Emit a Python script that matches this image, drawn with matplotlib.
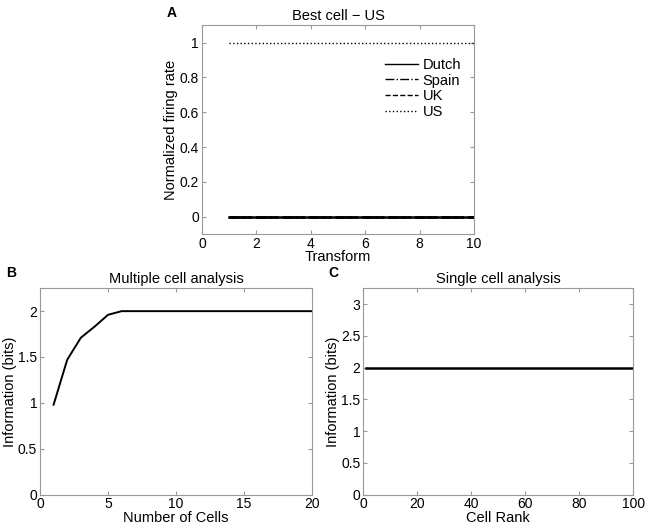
import matplotlib
matplotlib.use("Agg")
import matplotlib.pyplot as plt
import numpy as np

plt.rcParams["font.family"] = ["Liberation Sans", "DejaVu Sans"]
plt.rcParams["font.size"] = 10.5

# panel A: best cell responses per transform
transforms = np.arange(1, 11)
countries = ["Dutch", "Spain", "UK", "US"]
rates = {
    "Dutch": [0, 0, 0, 0, 0, 0, 0, 0, 0, 0],
    "Spain": [0, 0, 0, 0, 0, 0, 0, 0, 0, 0],
    "UK": [0, 0, 0, 0, 0, 0, 0, 0, 0, 0],
    "US": [1, 1, 1, 1, 1, 1, 1, 1, 1, 1],
}
styles = {"Dutch": "-", "Spain": "-.", "UK": "--", "US": ":"}
a_xticks = [0, 2, 4, 6, 8, 10]
a_yticks = [0, 0.2, 0.4, 0.6, 0.8, 1]
a_yticklabels = ["0", "0.2", "0.4", "0.6", "0.8", "1"]

# panel B: multiple cell analysis
n_cells = np.arange(1, 21)
multi_info = [0.98, 1.47, 1.71, 1.83, 1.96, 2.0, 2.0, 2.0, 2.0, 2.0,
              2.0, 2.0, 2.0, 2.0, 2.0, 2.0, 2.0, 2.0, 2.0, 2.0]
b_xticks = [0, 5, 10, 15, 20]
b_yticks = [0, 0.5, 1, 1.5, 2]
b_yticklabels = ["0", "0.5", "1", "1.5", "2"]

# panel C: single cell analysis
cell_rank = np.arange(1, 101)
single_info = [2.0] * 100
c_xticks = [0, 20, 40, 60, 80, 100]
c_yticks = [0, 0.5, 1, 1.5, 2, 2.5, 3]
c_yticklabels = ["0", "0.5", "1", "1.5", "2", "2.5", "3"]


def matlab_box(ax):
    for s in ax.spines.values():
        s.set_color("0.6")
        s.set_linewidth(0.8)
    ax.tick_params(direction="in", top=True, right=True, length=3,
                   color="0.6", labelsize=10, pad=2)


fig = plt.figure(figsize=(6.45, 5.25), dpi=100)
axA = fig.add_axes([0.313, 0.554, 0.422, 0.398])
axB = fig.add_axes([0.062, 0.058, 0.422, 0.393])
axC = fig.add_axes([0.563, 0.058, 0.419, 0.393])

for c in countries:
    axA.plot(transforms, rates[c], ls=styles[c], color="k",
             lw=1.8 if c != "US" else 1.0, label=c)
axA.set_xlim(0, 10)
axA.set_ylim(-0.1, 1.1)
axA.set_xticks(a_xticks)
axA.set_yticks(a_yticks)
axA.set_yticklabels(a_yticklabels)
axA.set_title("Best cell \u2212 US", fontsize=10.5, pad=4)
axA.set_xlabel("Transform", labelpad=-1)
axA.set_ylabel("Normalized firing rate", labelpad=1)
leg = axA.legend(loc="upper right", bbox_to_anchor=(0.99, 0.893), frameon=False,
                 fontsize=10.5, handlelength=2.2, handletextpad=0.35,
                 labelspacing=0.12, borderaxespad=0.3)
for h in leg.get_lines():
    h.set_linewidth(1.0)
matlab_box(axA)

axB.plot(n_cells, multi_info, color="k", lw=1.4)
axB.set_xlim(0, 20)
axB.set_ylim(0, 2.25)
axB.set_xticks(b_xticks)
axB.set_yticks(b_yticks)
axB.set_yticklabels(b_yticklabels)
axB.set_title("Multiple cell analysis", fontsize=10.5, pad=4)
axB.set_xlabel("Number of Cells", labelpad=-0.5)
axB.set_ylabel("Information (bits)", labelpad=1)
matlab_box(axB)

axC.plot(cell_rank, single_info, color="k", lw=1.8)
axC.set_xlim(0, 100)
axC.set_ylim(0, 3.25)
axC.set_xticks(c_xticks)
axC.set_yticks(c_yticks)
axC.set_yticklabels(c_yticklabels)
axC.set_title("Single cell analysis", fontsize=10.5, pad=4)
axC.set_xlabel("Cell Rank", labelpad=-0.5)
axC.set_ylabel("Information (bits)", labelpad=1)
matlab_box(axC)

fig.text(172 / 645, 1 - 13 / 525, "A", fontsize=10, fontweight="bold",
         ha="center", va="center")
fig.text(11 / 645, 1 - 273 / 525, "B", fontsize=10, fontweight="bold",
         ha="center", va="center")
fig.text(333 / 645, 1 - 273 / 525, "C", fontsize=10, fontweight="bold",
         ha="center", va="center")

fig.savefig("out.png", dpi=100)
